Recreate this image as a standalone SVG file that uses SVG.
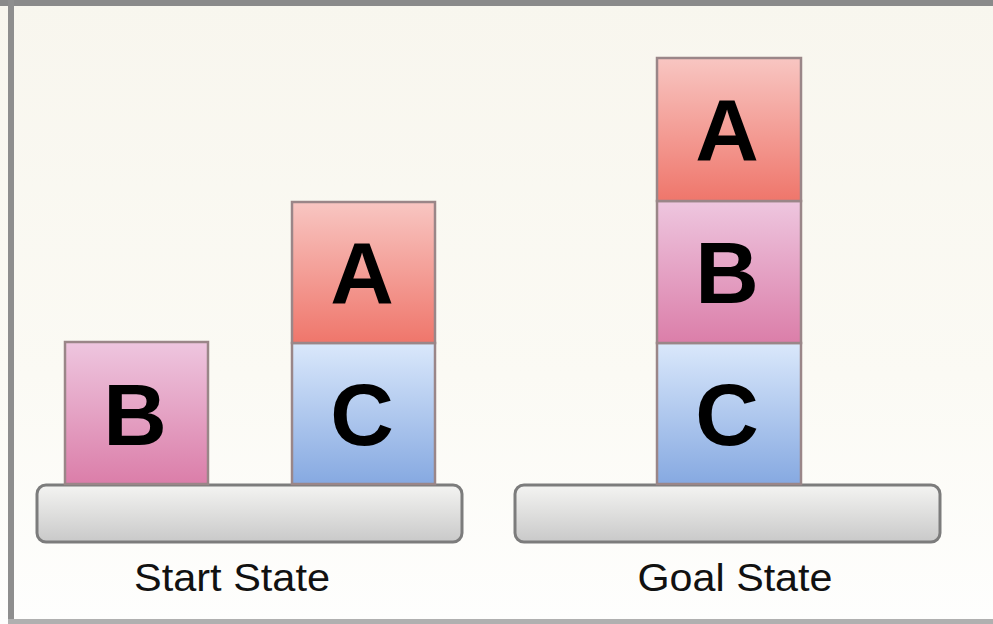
<svg xmlns="http://www.w3.org/2000/svg" width="993" height="624" viewBox="0 0 993 624">
<defs>
<linearGradient id="bg" x1="0" y1="0" x2="0" y2="1"><stop offset="0" stop-color="#f8f6ee"/><stop offset="0.6" stop-color="#fbfaf4"/><stop offset="1" stop-color="#fefefd"/></linearGradient>
<linearGradient id="gA" x1="0" y1="0" x2="0" y2="1"><stop offset="0" stop-color="#f8c6c2"/><stop offset="1" stop-color="#ef766b"/></linearGradient>
<linearGradient id="gB" x1="0" y1="0" x2="0" y2="1"><stop offset="0" stop-color="#eec6df"/><stop offset="1" stop-color="#db7ea9"/></linearGradient>
<linearGradient id="gC" x1="0" y1="0" x2="0" y2="1"><stop offset="0" stop-color="#dae8fb"/><stop offset="1" stop-color="#86a9e1"/></linearGradient>
<linearGradient id="gT" x1="0" y1="0" x2="0" y2="1"><stop offset="0" stop-color="#f4f4f2"/><stop offset="1" stop-color="#c9c9c9"/></linearGradient>
<style>
.blk{stroke:#9a8688;stroke-width:2.5}
.lt{font-family:"Liberation Sans",Arial,sans-serif;font-weight:bold;font-size:88px;fill:#000;text-anchor:middle}
.tbl{fill:url(#gT);stroke:#7c7c7c;stroke-width:3}
.lbl{font-family:"Liberation Sans",Arial,sans-serif;font-size:38px;fill:#111;text-anchor:middle}
</style>
</defs>
<rect x="0" y="0" width="993" height="624" fill="url(#bg)"/>
<rect x="0" y="0" width="993" height="6" fill="#8a8a8a"/>
<rect x="8" y="0" width="6" height="624" fill="#8e8e8e"/>
<rect x="8" y="619" width="985" height="5" fill="#b0b0b0"/>

<g id="start-table"><rect class="tbl" x="37" y="485" width="425" height="57" rx="9"/></g>
<g id="goal-table"><rect class="tbl" x="515" y="485" width="425" height="57" rx="9"/></g>

<g id="start-B"><rect class="blk" x="65" y="342" width="143" height="142" fill="url(#gB)"/><text class="lt" x="135" y="445">B</text></g>
<g id="start-C"><rect class="blk" x="292" y="343" width="143" height="141" fill="url(#gC)"/><text class="lt" x="362" y="445">C</text></g>
<g id="start-A"><rect class="blk" x="292" y="202" width="143" height="141" fill="url(#gA)"/><text class="lt" x="362" y="303">A</text></g>

<g id="goal-C"><rect class="blk" x="657" y="343" width="144" height="141" fill="url(#gC)"/><text class="lt" x="727" y="445">C</text></g>
<g id="goal-B"><rect class="blk" x="657" y="201" width="144" height="142" fill="url(#gB)"/><text class="lt" x="727" y="303">B</text></g>
<g id="goal-A"><rect class="blk" x="657" y="58" width="144" height="143" fill="url(#gA)"/><text class="lt" x="727" y="160">A</text></g>

<g id="labels">
<text class="lbl" x="232" y="591" textLength="196" lengthAdjust="spacingAndGlyphs">Start State</text>
<text class="lbl" x="735" y="591" textLength="195" lengthAdjust="spacingAndGlyphs">Goal State</text>
</g>
<g id="connectors"></g>
</svg>
